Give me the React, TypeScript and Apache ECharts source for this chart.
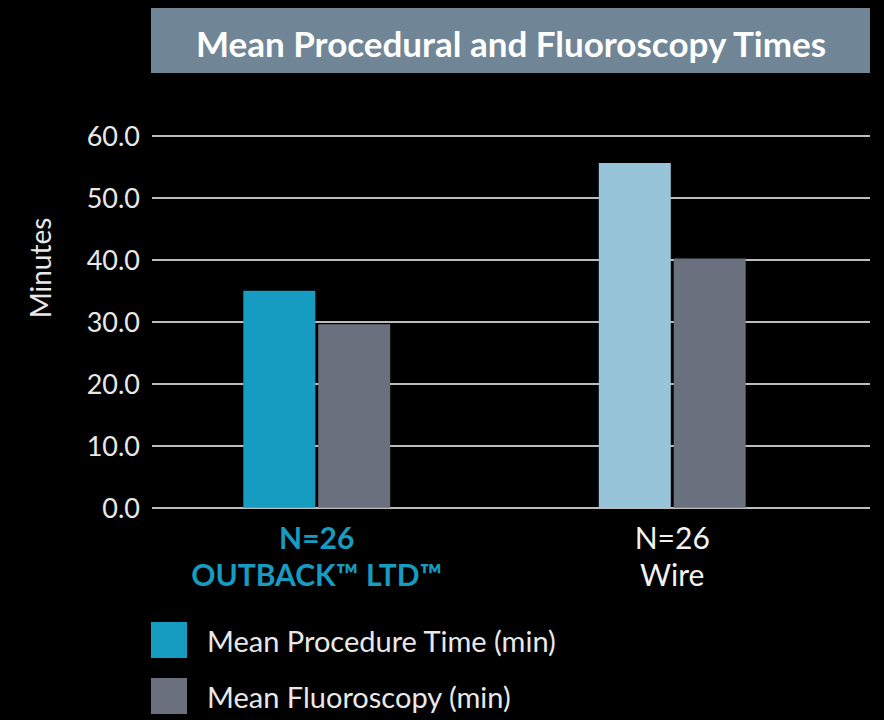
import React, { useEffect, useRef } from "react";
import * as echarts from "echarts";

const categories = ["N=26\nOUTBACK™ LTD™", "N=26\nWire"];
const procedureTime = [35.0, 55.6];
const fluoroscopyTime = [29.6, 40.2];
const yTicks = [0, 10, 20, 30, 40, 50, 60];
const seriesNames = ["Mean Procedure Time (min)", "Mean Fluoroscopy (min)"];

const TEAL = "#169cc0";
const LIGHT_BLUE = "#97c4d8";
const GRAY = "#6a707d";
const FONT = "Lato, 'Open Sans', sans-serif";
const TEXT = "#e8e8e8";

export default function App() {
  const ref = useRef<HTMLDivElement>(null);
  useEffect(() => {
    document.body.style.margin = "0";
    document.body.style.background = "#000";
    const chart = echarts.init(ref.current!, null, { renderer: "svg" });
    const yMin = yTicks[0];
    const yMax = yTicks[yTicks.length - 1];
    const interval = yTicks[1] - yTicks[0];
    chart.setOption({
      animation: false,
      backgroundColor: "#000",
      textStyle: { fontFamily: FONT },
      graphic: [
        {
          type: "rect",
          shape: { x: 151, y: 8, width: 719, height: 65 },
          style: { fill: "#708696" },
        },
        {
          type: "text",
          x: 511,
          y: 43,
          style: {
            text: "Mean Procedural and Fluoroscopy Times",
            fill: "#ffffff",
            font: `bold 35px ${FONT}`,
            textAlign: "center",
            textVerticalAlign: "middle",
          },
        },
        {
          type: "text",
          x: 40,
          y: 268,
          rotation: Math.PI / 2,
          style: {
            text: "Minutes",
            fill: TEXT,
            font: `28px ${FONT}`,
            textAlign: "center",
            textVerticalAlign: "middle",
          },
        },
      ],
      grid: [
        { left: 152, right: 14, top: 135.7, bottom: 212.3 },
        { left: 139, width: 711, top: 135.7, bottom: 212.3 },
      ],
      xAxis: [
        { gridIndex: 0, type: "category", data: categories, show: false },
        {
          gridIndex: 1,
          type: "category",
          data: [
            {
              value: categories[0],
              textStyle: { color: TEAL, fontWeight: "bold" },
            },
            { value: categories[1], textStyle: { color: "#f2f2f2" } },
          ],
          axisLine: { show: false },
          axisTick: { show: false },
          axisLabel: {
            fontSize: 30,
            lineHeight: 37,
            margin: 11,
            fontFamily: FONT,
          },
        },
      ],
      yAxis: [
        {
          gridIndex: 0,
          type: "value",
          min: yMin,
          max: yMax,
          interval,
          axisLine: { show: false },
          axisTick: { show: false },
          axisLabel: {
            color: TEXT,
            fontSize: 27,
            margin: 12,
            fontFamily: FONT,
            formatter: (v: number) => v.toFixed(1),
          },
          splitLine: { lineStyle: { color: "#bdbdbd", width: 2 } },
        },
        {
          gridIndex: 1,
          type: "value",
          min: yMin,
          max: yMax,
          interval,
          show: false,
          splitLine: { show: false },
        },
      ],
      legend: {
        orient: "vertical",
        left: 151,
        top: 622,
        padding: 0,
        height: 98,
        itemWidth: 36,
        itemHeight: 36,
        itemGap: 20,
        icon: "rect",
        textStyle: {
          color: TEXT,
          fontSize: 29,
          fontFamily: FONT,
          padding: [10, 0, 0, 15],
        },
        data: seriesNames,
      },
      series: [
        {
          name: seriesNames[0],
          type: "bar",
          xAxisIndex: 1,
          yAxisIndex: 1,
          barWidth: 72,
          barGap: "4%",
          itemStyle: { color: TEAL },
          data: procedureTime.map((v, i) =>
            i === 1 ? { value: v, itemStyle: { color: LIGHT_BLUE } } : v
          ),
        },
        {
          name: seriesNames[1],
          type: "bar",
          xAxisIndex: 1,
          yAxisIndex: 1,
          barWidth: 72,
          barGap: "4%",
          itemStyle: { color: GRAY },
          data: fluoroscopyTime,
        },
      ],
    });
    return () => chart.dispose();
  }, []);
  return (
    <div
      ref={ref}
      style={{ position: "absolute", left: 0, top: 0, width: 884, height: 720 }}
    />
  );
}
